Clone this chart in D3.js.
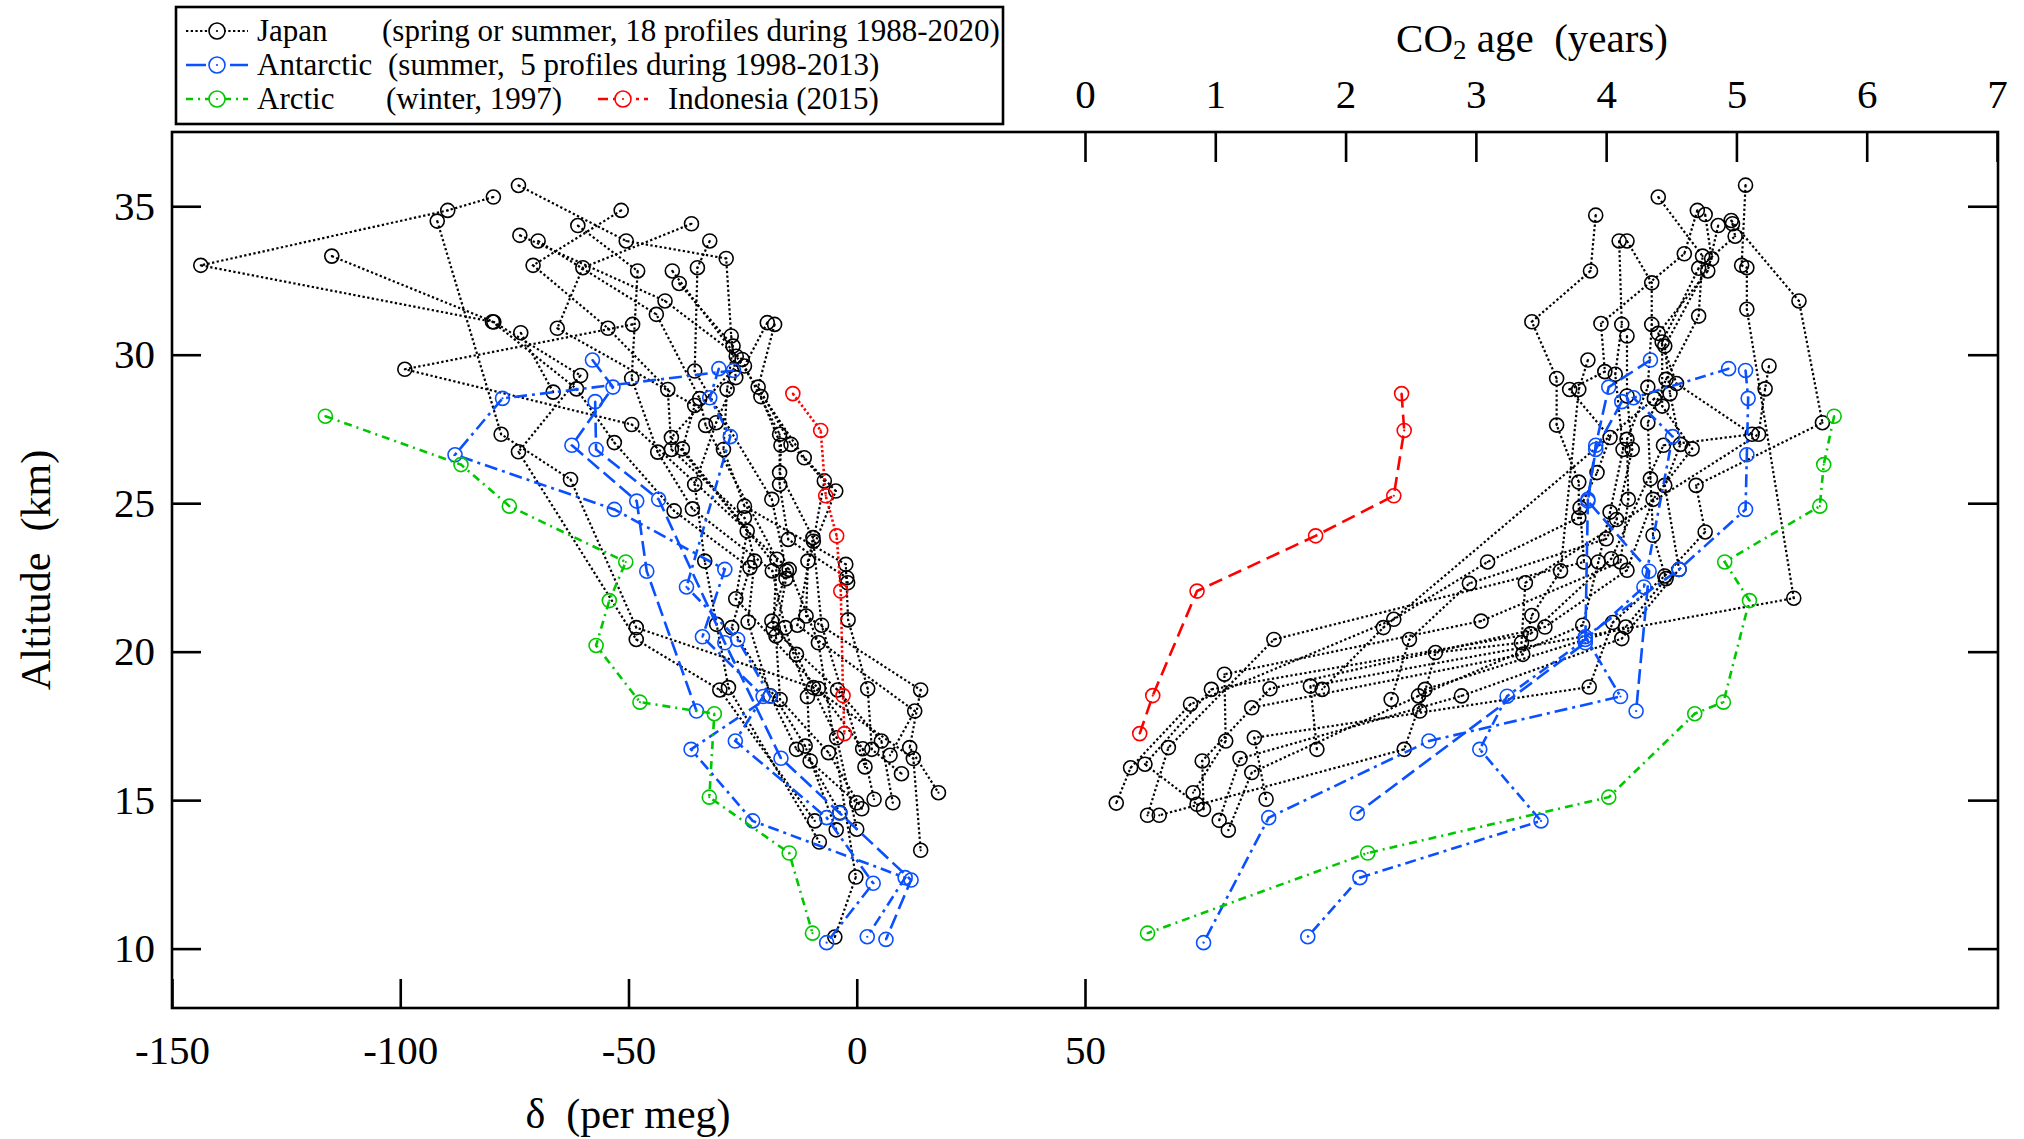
<!DOCTYPE html>
<html lang="en">
<head>
<meta charset="UTF-8">
<title>Stratospheric profiles of delta and CO2 age</title>
<script src="https://d3js.org/d3.v7.min.js"></script>
<style>
  body { margin: 0; background: #fff; }
  text { font-family: "Liberation Serif", "Times New Roman", serif; fill: #000; }
</style>
</head>
<body>
<div id="chart"></div>
<script>
// ---- tick values
const altTicks = [10, 15, 20, 25, 30, 35];
const deltaTicks = [-150, -100, -50, 0, 50];
const ageTicks = [0, 1, 2, 3, 4, 5, 6, 7];

// ---- Japan, 18 profiles. left panel: [altitude km, delta per meg]
const japanDelta = [
  [[35.70,-74.1],[33.83,-50.5],[33.24,-28.6],[30.63,-27.5],[29.23,-26.5],[27.71,-30.8],[25.63,-35.5],[23.05,-33.3],[20.92,-30.7],[18.79,-28.1],[13.59,-8.2]],
  [[35.31,-79.6],[34.86,-89.6],[33.01,-143.7],[31.11,-79.8],[28.85,-61.4],[27.04,-53.1],[24.74,-40.0],[22.83,-23.4],[20.81,-27.4],[16.82,-11.3],[14.0,-4.5]],
  [[34.86,-51.6],[33.01,-70.9],[30.89,-54.5],[28.83,-41.4],[26.81,-40.6],[24.51,-24.6],[23.05,-22.4],[21.0,-23.8],[18.51,-18.9],[16.71,-13.2],[14.91,0.0]],
  [[34.50,-91.9],[27.32,-77.9],[25.80,-62.7],[20.81,-48.3],[18.79,-9.5],[16.4,12.4],[13.31,14.0]],
  [[34.41,-36.2],[32.93,-60.0],[30.89,-65.6],[28.29,-35.5],[26.83,-38.2],[22.46,-15.5],[20.53,-17.7],[18.39,-16.8],[16.6,-6.2],[14.71,1.1]],
  [[34.35,-61.1],[32.82,-48.0],[29.20,-49.3],[26.72,-43.6],[24.81,-36.0],[22.72,-18.5],[20.81,-15.7],[18.48,-10.8],[16.32,-10.2],[14.58,-3.7]],
  [[34.02,-73.8],[31.81,-42.0],[29.84,-25.1],[27.21,-40.6],[24.06,-24.0],[21.78,-26.5],[18.76,-8.4],[16.73,1.3],[15.03,3.8]],
  [[33.83,-69.8],[31.36,-43.9],[28.52,-34.4],[27.62,-33.1],[23.11,-17.5],[20.77,-18.3],[18.71,-4.2],[16.99,5.4],[14.91,7.9]],
  [[33.83,-32.2],[32.93,-34.9],[29.45,-35.5],[25.13,-18.6],[22.72,-15.4],[21.03,-18.6],[19.91,-13.2],[17.1,-4.4],[14.02,0.0]],
  [[33.32,-115.0],[31.10,-79.5],[29.30,-60.5],[26.73,-74.1],[20.41,-48.3],[18.71,-30.0],[14.3,-9.2]],
  [[32.82,-40.4],[29.95,-26.4],[26.53,-11.5],[25.41,-4.6],[23.05,-10.7],[21.2,-11.1],[18.71,14.0],[16.77,11.6],[15.25,17.9]],
  [[32.40,-38.9],[30.29,-27.1],[28.83,-28.4],[26.81,-29.2],[24.90,-24.6],[22.94,-2.4],[21.07,-1.9],[18.75,2.4],[16.71,3.3],[15.89,9.8]],
  [[31.08,-19.6],[29.62,-24.6],[27.32,-16.9],[26.03,-16.9],[23.84,-9.6],[20.89,-13.0],[18.0,12.7],[16.51,7.3]],
  [[31.02,-18.0],[28.91,-21.6],[26.98,-14.4],[25.75,-7.1],[23.72,-9.5],[20.89,-7.7],[16.12,1.8]],
  [[31.02,-49.1],[29.51,-99.0],[27.65,-49.3],[22.77,-14.8],[20.3,-8.4],[12.41,-0.2],[10.39,-4.8]],
  [[30.74,-73.6],[28.74,-66.5]],
  [[28.59,-21.0],[26.95,-16.6],[25.63,-16.9],[23.78,-15.0],[22.49,-2.2],[22.32,-2.0]]
];

// ---- Japan, right panel: [altitude km, CO2 age years]
const japanAge = [
  [[35.71,5.07],[33.01,5.04],[32.93,5.08],[31.53,5.08],[21.80,5.44],[18.84,1.73],[16.71,1.78]],
  [[35.31,4.40],[33.32,4.74],[31.30,4.71],[29.17,4.46],[27.71,4.32],[25.82,4.34],[23.92,4.36],[22.46,4.46],[20.83,4.15],[18.73,2.61],[16.71,2.45],[14.49,0.57]],
  [[34.70,3.92],[32.82,3.88],[31.11,3.43],[29.20,3.62],[27.63,3.62],[25.71,3.79],[24.51,3.79],[23.02,3.09],[21.09,2.37],[18.23,0.81],[16.09,0.35],[14.9,0.24]],
  [[34.86,4.70],[33.40,4.60],[31.05,3.96],[29.43,3.99],[28.83,3.72],[27.21,4.03],[26.03,3.93],[24.85,3.80],[23.02,3.83],[20.41,1.45],[16.77,0.64],[14.49,0.48]],
  [[34.72,4.76],[33.23,4.81],[30.29,4.45],[28.69,4.49],[26.98,4.57],[25.60,4.45],[22.77,4.56],[20.44,4.12],[18.51,2.89],[16.40,1.19],[14.32,1.03]],
  [[34.52,4.96],[31.81,5.48],[27.71,5.66],[25.60,4.69],[24.03,4.76],[22.55,4.45],[20.98,4.05],[18.81,3.87],[17.10,1.30],[15.03,1.39]],
  [[34.41,4.97],[33.99,4.99],[32.91,4.71],[30.43,4.43],[28.27,4.43],[26.83,4.66],[25.13,4.36],[22.74,4.16],[20.83,3.53],[18.75,1.42],[16.32,0.90],[14.69,0.91]],
  [[34.35,4.86],[32.82,4.78],[30.72,4.40],[29.03,4.54],[27.32,5.12],[26.95,4.44],[23.13,4.04],[20.60,3.42],[18.73,0.97],[16.21,0.46],[14.86,0.86]],
  [[33.83,4.10],[31.02,4.12],[29.34,4.07],[26.81,4.13],[24.70,4.03],[23.02,3.94],[20.89,3.82],[18.51,2.56],[15.93,1.28],[13.99,1.10]],
  [[33.83,4.16],[32.42,4.35],[31.02,4.35],[28.91,4.32],[27.15,4.16],[25.13,4.17],[23.02,4.11],[21.03,3.04],[19.24,1.07],[16.99,1.08],[15.25,0.83]],
  [[30.63,4.16],[28.61,4.16],[26.81,4.20],[24.45,4.08],[23.80,4.00],[22.30,2.95],[20.41,2.49],[18.39,2.35]],
  [[29.82,3.86],[28.83,3.79],[22.72,3.65],[21.22,3.43],[19.91,3.36],[18.11,1.28]],
  [[29.62,5.25],[28.85,5.22],[27.32,5.17],[22.32,3.38],[20.3,3.35],[19.97,2.69],[18.0,2.57]],
  [[28.52,4.37],[20.81,2.29],[18.73,1.82]]
];

// ---- Antarctic (summer, 5 profiles); null = no CO2 age
const antarcticAlt = [
  [29.47, 28.53, 26.63, 24.79, 22.77, 20.5, 18.49, 16.99, 14.41, 12.2, 10.2],
  [29.82, 28.91, 26.95, 25.07, 22.71, 18.0],
  [29.53, 28.55, 27.24, 22.18, 20.41, 18.5, 16.71, 14.3, 12.39, 10.4],
  [28.42, 26.81, 25.13, 20.3, 16.41, 14.56, 12.31, 10.31]
];
const antarcticDelta = [
  [-27.0, -77.6, -88.0, -53.1, -28.9, -33.8, -20.5, -26.6, -6.6, 3.6, -6.6],
  [-57.9, -53.4, -62.4, -48.2, -46.0, -35.1],
  [-30.2, -32.2, -27.7, -37.3, -26.1, -19.0, -36.3, -22.8, 10.6, 2.3],
  [-57.3, -57.1, -43.4, -28.9, -16.6, -3.7, 11.9, 6.4]
];
const antarcticAge = [
  [5.07, 5.09, 5.08, 5.07, 4.56, 3.84, 4.11, 2.64, 1.41, null, 0.91],
  [4.34, 4.02, 3.92, 3.86, 4.33, 4.23],
  [4.94, 4.21, 4.51, 4.29, 3.84, 3.24, 3.03, 3.50, 2.11, 1.71],
  [4.12, 3.92, 3.86, 3.84, null, 2.09, null, null]
];

// ---- Arctic (winter 1997)
const arcticAlt = [27.93, 26.3, 24.9, 23.02, 21.72, 20.21, 18.3, 17.91, 15.1, 13.22, 10.52];
const arcticDelta = [-116.4, -86.7, -76.1, -50.6, -54.2, -57.1, -47.5, -31.2, -32.3, -14.8, -9.7];
const arcticAge = [5.75, 5.67, 5.64, 4.91, 5.10, null, 4.90, 4.68, 4.02, 2.17, 0.48];

// ---- Indonesia (2015)
const indonesiaAlt = [28.69, 27.45, 25.25, 23.9, 22.04, 18.52, 17.24];
const indonesiaDelta = [-14.0, -7.9, -6.8, -4.4, -3.5, -3.0, -2.7];
const indonesiaAge = [2.43, 2.45, 2.37, 1.77, 0.86, 0.52, 0.42];

// ---- styles
const black = "#000000", blue = "#0a50ff", green = "#00c800", red = "#ff0000";
const dotted = "2.3,2.4";
const antarcticDash = ["13,5,3,5", "15,6", "11,5,3,5", "15,6"];
const greenDash = "8,5,2,5";

const W = 2024, H = 1139;
const frame = {left: 172, right: 1998, top: 132, bottom: 1008};

const svg = d3.select("#chart").append("svg")
  .attr("width", W).attr("height", H);

const y = d3.scaleLinear().domain([8, 37.5]).range([frame.bottom, frame.top]);
const xL = d3.scaleLinear().domain([-150, 50]).range([frame.left, 1085]);
const xR = d3.scaleLinear().domain([0, 7]).range([1085, 1997]);

// frame
svg.append("rect")
  .attr("x", frame.left).attr("y", frame.top)
  .attr("width", frame.right - frame.left).attr("height", frame.bottom - frame.top)
  .attr("fill", "none").attr("stroke", "#000").attr("stroke-width", 2.6);

const plain = d => String(d);   // hyphen minus, no decimals

function styleAxis(g) {
  g.select(".domain").remove();
  g.selectAll(".tick line").attr("stroke", "#000").attr("stroke-width", 2.6);
  g.selectAll(".tick text").attr("font-size", 41)
    .attr("font-family", "'Liberation Serif', 'Times New Roman', serif").attr("fill", "#000");
}

svg.append("g").attr("transform", `translate(${frame.left},0)`)
  .call(d3.axisLeft(y).tickValues(altTicks).tickFormat(plain).tickSize(-29).tickPadding(17))
  .call(styleAxis);
svg.append("g").attr("transform", `translate(${frame.right},0)`)
  .call(d3.axisRight(y).tickValues(altTicks).tickSize(-30).tickFormat(""))
  .call(styleAxis);
svg.append("g").attr("transform", `translate(0,${frame.bottom})`)
  .call(d3.axisBottom(xL).tickValues(deltaTicks).tickFormat(plain).tickSize(-29).tickPadding(27))
  .call(styleAxis);
svg.append("g").attr("transform", `translate(0,${frame.top})`)
  .call(d3.axisTop(xR).tickValues(ageTicks).tickFormat(plain).tickSize(-30).tickPadding(24))
  .call(styleAxis);

// axis titles
svg.append("text")
  .attr("transform", "translate(50,570) rotate(-90)")
  .attr("text-anchor", "middle").attr("font-size", 42)
  .style("white-space", "pre")
  .text("Altitude  (km)");

svg.append("text")
  .attr("x", 628).attr("y", 1128)
  .attr("text-anchor", "middle").attr("font-size", 42)
  .style("white-space", "pre")
  .text("\u03b4  (per meg)");

const co2 = svg.append("text")
  .attr("x", 1532).attr("y", 52)
  .attr("text-anchor", "middle").attr("font-size", 41)
  .style("white-space", "pre");
co2.append("tspan").text("CO");
co2.append("tspan").attr("font-size", 27).attr("dy", 7).text("2");
co2.append("tspan").attr("dy", -7).text(" age  (years)");

// ---- series drawing
const plot = svg.append("g");

function drawProfile(pts, xScale, color, dash, width) {
  const data = pts.filter(p => p[1] != null);
  const line = d3.line().x(p => xScale(p[1])).y(p => y(p[0]));
  plot.append("path").datum(data)
    .attr("d", line)
    .attr("fill", "none")
    .attr("stroke", color)
    .attr("stroke-width", width)
    .attr("stroke-dasharray", dash);
  const m = plot.append("g");
  m.selectAll("circle.mk").data(data).join("circle")
    .attr("class", "mk")
    .attr("cx", p => xScale(p[1])).attr("cy", p => y(p[0]))
    .attr("r", 7)
    .attr("fill", "none").attr("stroke", color).attr("stroke-width", 1.6);
  m.selectAll("circle.dot").data(data).join("circle")
    .attr("class", "dot")
    .attr("cx", p => xScale(p[1])).attr("cy", p => y(p[0]))
    .attr("r", 1.1).attr("fill", color);
}

const zipPts = (alts, vals) => alts.map((a, i) => [a, vals[i]]);

// Japan
japanDelta.forEach(p => drawProfile(p, xL, black, dotted, 2.2));
japanAge.forEach(p => drawProfile(p, xR, black, dotted, 2.2));

// Antarctic
antarcticAlt.forEach((alts, i) => {
  drawProfile(zipPts(alts, antarcticDelta[i]), xL, blue, antarcticDash[i], 2.6);
  drawProfile(zipPts(alts, antarcticAge[i]), xR, blue, antarcticDash[i], 2.6);
});

// Arctic
drawProfile(zipPts(arcticAlt, arcticDelta), xL, green, greenDash, 2.6);
drawProfile(zipPts(arcticAlt, arcticAge), xR, green, greenDash, 2.6);

// Indonesia
drawProfile(zipPts(indonesiaAlt, indonesiaDelta), xL, red, dotted, 2.6);
drawProfile(zipPts(indonesiaAlt, indonesiaAge), xR, red, "14,7", 2.6);

// ---- legend
const legend = svg.append("g");
legend.append("rect")
  .attr("x", 176).attr("y", 7).attr("width", 827).attr("height", 117)
  .attr("fill", "#fff").attr("stroke", "#000").attr("stroke-width", 2.6);

const legendRows = [
  {name: "Japan", note: "(spring or summer, 18 profiles during 1988-2020)", noteX: 382, color: black, dash: dotted, w: 2},
  {name: "Antarctic", note: "(summer,  5 profiles during 1998-2013)", noteX: 388, color: blue, dash: "20,24,20", w: 2.6},
  {name: "Arctic", note: "(winter, 1997)", noteX: 386, color: green, dash: "7,5,2,5", w: 2.6}
];

function legendSymbol(cx, cy, x0, x1, color, dash, w) {
  legend.append("line")
    .attr("x1", x0).attr("x2", x1).attr("y1", cy).attr("y2", cy)
    .attr("stroke", color).attr("stroke-width", w).attr("stroke-dasharray", dash);
  legend.append("circle").attr("cx", cx).attr("cy", cy).attr("r", 8)
    .attr("fill", "#fff").attr("stroke", color).attr("stroke-width", 1.6);
  legend.append("circle").attr("cx", cx).attr("cy", cy).attr("r", 1.1).attr("fill", color);
}

legendRows.forEach((r, i) => {
  const cy = 31 + i * 34;
  legendSymbol(217, cy, 186, 248, r.color, r.dash, r.w);
  legend.append("text").attr("x", 257).attr("y", cy + 10).attr("font-size", 31).text(r.name);
  legend.append("text").attr("x", r.noteX).attr("y", cy + 10).attr("font-size", 31)
    .style("white-space", "pre").text(r.note);
});
legendSymbol(623, 99, 598, 648, red, "10,5,3,5", 2.6);
legend.append("text").attr("x", 668).attr("y", 109).attr("font-size", 31).text("Indonesia (2015)");
</script>
</body>
</html>
